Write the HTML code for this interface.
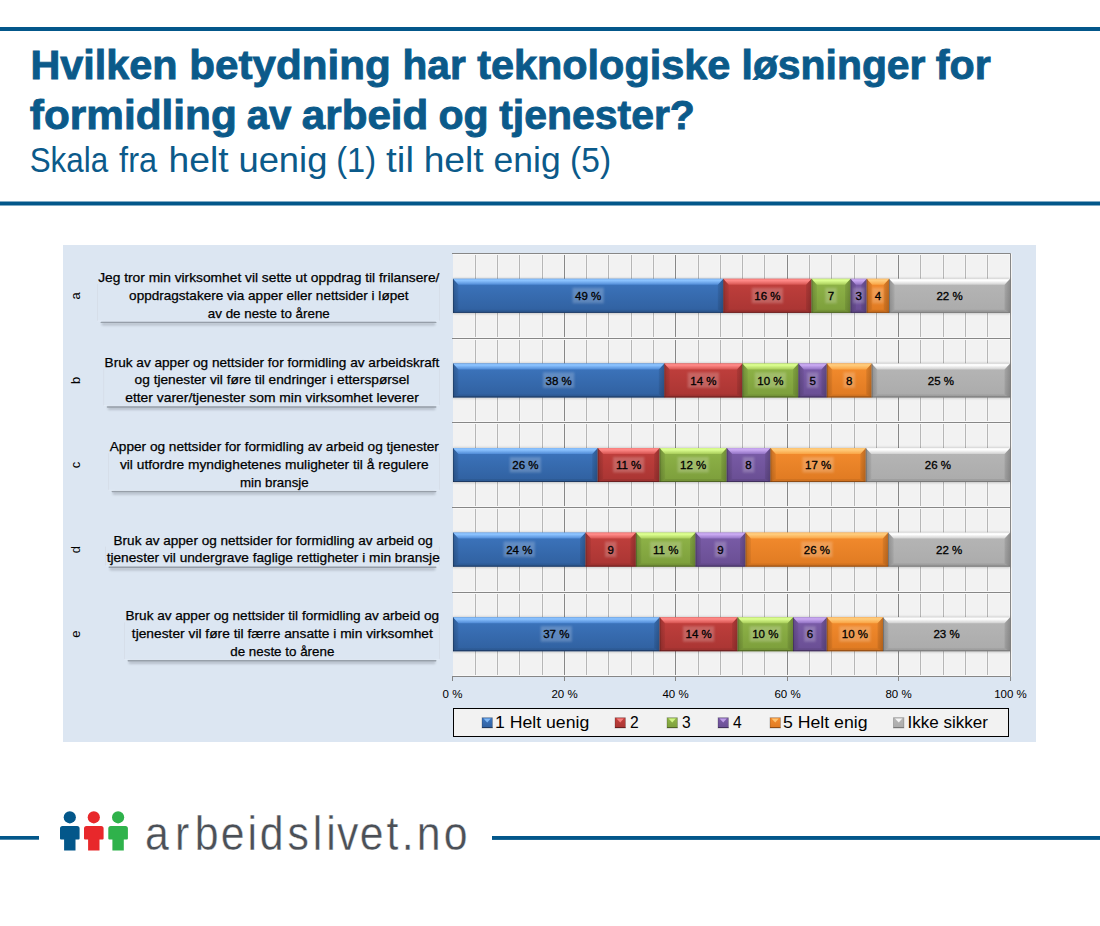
<!DOCTYPE html>
<html><head><meta charset="utf-8"><title>Hvilken betydning har teknologiske løsninger</title>
<style>
html,body{margin:0;padding:0;background:#fff;width:1100px;height:926px;overflow:hidden}
svg{display:block}
</style></head><body>
<svg width="1100" height="926" viewBox="0 0 1100 926">
<rect x="0" y="27" width="1100" height="4" fill="#03578a"/>
<rect x="0" y="201.5" width="1100" height="4" fill="#03578a"/>
<text x="30.43" y="78.6" textLength="147.18" lengthAdjust="spacingAndGlyphs" font-family="Liberation Sans, sans-serif" font-size="41" font-weight="bold" fill="#0b5a8a" stroke="#0b5a8a" stroke-width="0.9">Hvilken</text>
<text x="189.29" y="78.6" textLength="201.46" lengthAdjust="spacingAndGlyphs" font-family="Liberation Sans, sans-serif" font-size="41" font-weight="bold" fill="#0b5a8a" stroke="#0b5a8a" stroke-width="0.9">betydning</text>
<text x="402.47" y="78.6" textLength="63.24" lengthAdjust="spacingAndGlyphs" font-family="Liberation Sans, sans-serif" font-size="41" font-weight="bold" fill="#0b5a8a" stroke="#0b5a8a" stroke-width="0.9">har</text>
<text x="477.15" y="78.6" textLength="253.21" lengthAdjust="spacingAndGlyphs" font-family="Liberation Sans, sans-serif" font-size="41" font-weight="bold" fill="#0b5a8a" stroke="#0b5a8a" stroke-width="0.9">teknologiske</text>
<text x="741.56" y="78.6" textLength="183.95" lengthAdjust="spacingAndGlyphs" font-family="Liberation Sans, sans-serif" font-size="41" font-weight="bold" fill="#0b5a8a" stroke="#0b5a8a" stroke-width="0.9">løsninger</text>
<text x="935.85" y="78.6" textLength="54.96" lengthAdjust="spacingAndGlyphs" font-family="Liberation Sans, sans-serif" font-size="41" font-weight="bold" fill="#0b5a8a" stroke="#0b5a8a" stroke-width="0.9">for</text>
<text x="29.85" y="128.8" textLength="206.91" lengthAdjust="spacingAndGlyphs" font-family="Liberation Sans, sans-serif" font-size="41" font-weight="bold" fill="#0b5a8a" stroke="#0b5a8a" stroke-width="0.9">formidling</text>
<text x="246.77" y="128.8" textLength="44.58" lengthAdjust="spacingAndGlyphs" font-family="Liberation Sans, sans-serif" font-size="41" font-weight="bold" fill="#0b5a8a" stroke="#0b5a8a" stroke-width="0.9">av</text>
<text x="301.82" y="128.8" textLength="126.53" lengthAdjust="spacingAndGlyphs" font-family="Liberation Sans, sans-serif" font-size="41" font-weight="bold" fill="#0b5a8a" stroke="#0b5a8a" stroke-width="0.9">arbeid</text>
<text x="438.55" y="128.8" textLength="50.15" lengthAdjust="spacingAndGlyphs" font-family="Liberation Sans, sans-serif" font-size="41" font-weight="bold" fill="#0b5a8a" stroke="#0b5a8a" stroke-width="0.9">og</text>
<text x="499.15" y="128.8" textLength="195.74" lengthAdjust="spacingAndGlyphs" font-family="Liberation Sans, sans-serif" font-size="41" font-weight="bold" fill="#0b5a8a" stroke="#0b5a8a" stroke-width="0.9">tjenester?</text>
<text x="29.7" y="171.7" textLength="78.42" lengthAdjust="spacingAndGlyphs" font-family="Liberation Sans, sans-serif" font-size="35" fill="#0b5a8a">Skala</text>
<text x="119.1" y="171.7" textLength="38.0" lengthAdjust="spacingAndGlyphs" font-family="Liberation Sans, sans-serif" font-size="35" fill="#0b5a8a">fra</text>
<text x="168.57" y="171.7" textLength="60.03" lengthAdjust="spacingAndGlyphs" font-family="Liberation Sans, sans-serif" font-size="35" fill="#0b5a8a">helt</text>
<text x="238.42" y="171.7" textLength="89.0" lengthAdjust="spacingAndGlyphs" font-family="Liberation Sans, sans-serif" font-size="35" fill="#0b5a8a">uenig</text>
<text x="336.24" y="171.7" textLength="39.8" lengthAdjust="spacingAndGlyphs" font-family="Liberation Sans, sans-serif" font-size="35" fill="#0b5a8a">(1)</text>
<text x="386.1" y="171.7" textLength="27.86" lengthAdjust="spacingAndGlyphs" font-family="Liberation Sans, sans-serif" font-size="35" fill="#0b5a8a">til</text>
<text x="423.67" y="171.7" textLength="60.03" lengthAdjust="spacingAndGlyphs" font-family="Liberation Sans, sans-serif" font-size="35" fill="#0b5a8a">helt</text>
<text x="493.59" y="171.7" textLength="67.1" lengthAdjust="spacingAndGlyphs" font-family="Liberation Sans, sans-serif" font-size="35" fill="#0b5a8a">enig</text>
<text x="570.08" y="171.7" textLength="41.0" lengthAdjust="spacingAndGlyphs" font-family="Liberation Sans, sans-serif" font-size="35" fill="#0b5a8a">(5)</text>
<defs>
<linearGradient id="tb0" x1="0" y1="0" x2="0" y2="1"><stop offset="0" stop-color="#8cc3ff" stop-opacity="0.85"/><stop offset="0.3" stop-color="#8cc3ff"/><stop offset="1" stop-color="#4f8ad6"/></linearGradient>
<linearGradient id="bd0" x1="0" y1="0" x2="0" y2="1"><stop offset="0" stop-color="#3d76bf"/><stop offset="1" stop-color="#30609f"/></linearGradient>
<linearGradient id="tb1" x1="0" y1="0" x2="0" y2="1"><stop offset="0" stop-color="#ff8a88" stop-opacity="0.85"/><stop offset="0.3" stop-color="#ff8a88"/><stop offset="1" stop-color="#d65350"/></linearGradient>
<linearGradient id="bd1" x1="0" y1="0" x2="0" y2="1"><stop offset="0" stop-color="#c2403d"/><stop offset="1" stop-color="#a93533"/></linearGradient>
<linearGradient id="tb2" x1="0" y1="0" x2="0" y2="1"><stop offset="0" stop-color="#dcff90" stop-opacity="0.85"/><stop offset="0.3" stop-color="#dcff90"/><stop offset="1" stop-color="#a8cc5a"/></linearGradient>
<linearGradient id="bd2" x1="0" y1="0" x2="0" y2="1"><stop offset="0" stop-color="#90b549"/><stop offset="1" stop-color="#7c9e3b"/></linearGradient>
<linearGradient id="tb3" x1="0" y1="0" x2="0" y2="1"><stop offset="0" stop-color="#caaaf2" stop-opacity="0.85"/><stop offset="0.3" stop-color="#caaaf2"/><stop offset="1" stop-color="#9272c4"/></linearGradient>
<linearGradient id="bd3" x1="0" y1="0" x2="0" y2="1"><stop offset="0" stop-color="#7b5da9"/><stop offset="1" stop-color="#694e93"/></linearGradient>
<linearGradient id="tb4" x1="0" y1="0" x2="0" y2="1"><stop offset="0" stop-color="#ffcc7c" stop-opacity="0.85"/><stop offset="0.3" stop-color="#ffcc7c"/><stop offset="1" stop-color="#f9a445"/></linearGradient>
<linearGradient id="bd4" x1="0" y1="0" x2="0" y2="1"><stop offset="0" stop-color="#f48c2e"/><stop offset="1" stop-color="#df7a22"/></linearGradient>
<linearGradient id="tb5" x1="0" y1="0" x2="0" y2="1"><stop offset="0" stop-color="#ffffff" stop-opacity="0.85"/><stop offset="0.3" stop-color="#ffffff"/><stop offset="1" stop-color="#cfcfcf"/></linearGradient>
<linearGradient id="bd5" x1="0" y1="0" x2="0" y2="1"><stop offset="0" stop-color="#b6b6b6"/><stop offset="1" stop-color="#ababab"/></linearGradient>
<linearGradient id="lb" x1="0" y1="0" x2="1" y2="0"><stop offset="0" stop-color="#000" stop-opacity="0.2"/><stop offset="1" stop-color="#000" stop-opacity="0.05"/></linearGradient>
<linearGradient id="rb" x1="0" y1="0" x2="1" y2="0"><stop offset="0" stop-color="#000" stop-opacity="0.08"/><stop offset="1" stop-color="#000" stop-opacity="0.22"/></linearGradient>
<filter id="sh2" x="-5%" y="-300%" width="110%" height="700%"><feGaussianBlur stdDeviation="0.5"/></filter>
<filter id="blur1" x="-20%" y="-50%" width="140%" height="200%"><feGaussianBlur stdDeviation="1.2"/></filter>
<filter id="sh" x="-5%" y="-200%" width="110%" height="500%"><feGaussianBlur stdDeviation="0.9"/></filter>
</defs>
<rect x="63" y="245" width="973" height="497" fill="#dce6f2"/>
<rect x="453.0" y="253.5" width="557.0" height="423.0" fill="#f2f2f2"/>
<line x1="474.5" y1="253.5" x2="474.5" y2="676.5" stroke="#f5f5f5" stroke-width="1"/>
<line x1="476.5" y1="253.5" x2="476.5" y2="676.5" stroke="#f5f5f5" stroke-width="1"/>
<line x1="475.5" y1="253.5" x2="475.5" y2="676.5" stroke="#b6b6b6" stroke-width="1"/>
<line x1="496.5" y1="253.5" x2="496.5" y2="676.5" stroke="#f5f5f5" stroke-width="1"/>
<line x1="498.5" y1="253.5" x2="498.5" y2="676.5" stroke="#f5f5f5" stroke-width="1"/>
<line x1="497.5" y1="253.5" x2="497.5" y2="676.5" stroke="#b6b6b6" stroke-width="1"/>
<line x1="518.5" y1="253.5" x2="518.5" y2="676.5" stroke="#f5f5f5" stroke-width="1"/>
<line x1="520.5" y1="253.5" x2="520.5" y2="676.5" stroke="#f5f5f5" stroke-width="1"/>
<line x1="519.5" y1="253.5" x2="519.5" y2="676.5" stroke="#b6b6b6" stroke-width="1"/>
<line x1="541.5" y1="253.5" x2="541.5" y2="676.5" stroke="#f5f5f5" stroke-width="1"/>
<line x1="543.5" y1="253.5" x2="543.5" y2="676.5" stroke="#f5f5f5" stroke-width="1"/>
<line x1="542.5" y1="253.5" x2="542.5" y2="676.5" stroke="#b6b6b6" stroke-width="1"/>
<line x1="563.5" y1="253.5" x2="563.5" y2="676.5" stroke="#f5f5f5" stroke-width="1"/>
<line x1="565.5" y1="253.5" x2="565.5" y2="676.5" stroke="#f5f5f5" stroke-width="1"/>
<line x1="564.5" y1="253.5" x2="564.5" y2="676.5" stroke="#878787" stroke-width="1"/>
<line x1="585.5" y1="253.5" x2="585.5" y2="676.5" stroke="#f5f5f5" stroke-width="1"/>
<line x1="587.5" y1="253.5" x2="587.5" y2="676.5" stroke="#f5f5f5" stroke-width="1"/>
<line x1="586.5" y1="253.5" x2="586.5" y2="676.5" stroke="#b6b6b6" stroke-width="1"/>
<line x1="607.5" y1="253.5" x2="607.5" y2="676.5" stroke="#f5f5f5" stroke-width="1"/>
<line x1="609.5" y1="253.5" x2="609.5" y2="676.5" stroke="#f5f5f5" stroke-width="1"/>
<line x1="608.5" y1="253.5" x2="608.5" y2="676.5" stroke="#b6b6b6" stroke-width="1"/>
<line x1="630.5" y1="253.5" x2="630.5" y2="676.5" stroke="#f5f5f5" stroke-width="1"/>
<line x1="632.5" y1="253.5" x2="632.5" y2="676.5" stroke="#f5f5f5" stroke-width="1"/>
<line x1="631.5" y1="253.5" x2="631.5" y2="676.5" stroke="#b6b6b6" stroke-width="1"/>
<line x1="652.5" y1="253.5" x2="652.5" y2="676.5" stroke="#f5f5f5" stroke-width="1"/>
<line x1="654.5" y1="253.5" x2="654.5" y2="676.5" stroke="#f5f5f5" stroke-width="1"/>
<line x1="653.5" y1="253.5" x2="653.5" y2="676.5" stroke="#b6b6b6" stroke-width="1"/>
<line x1="674.5" y1="253.5" x2="674.5" y2="676.5" stroke="#f5f5f5" stroke-width="1"/>
<line x1="676.5" y1="253.5" x2="676.5" y2="676.5" stroke="#f5f5f5" stroke-width="1"/>
<line x1="675.5" y1="253.5" x2="675.5" y2="676.5" stroke="#878787" stroke-width="1"/>
<line x1="697.5" y1="253.5" x2="697.5" y2="676.5" stroke="#f5f5f5" stroke-width="1"/>
<line x1="699.5" y1="253.5" x2="699.5" y2="676.5" stroke="#f5f5f5" stroke-width="1"/>
<line x1="698.5" y1="253.5" x2="698.5" y2="676.5" stroke="#b6b6b6" stroke-width="1"/>
<line x1="719.5" y1="253.5" x2="719.5" y2="676.5" stroke="#f5f5f5" stroke-width="1"/>
<line x1="721.5" y1="253.5" x2="721.5" y2="676.5" stroke="#f5f5f5" stroke-width="1"/>
<line x1="720.5" y1="253.5" x2="720.5" y2="676.5" stroke="#b6b6b6" stroke-width="1"/>
<line x1="741.5" y1="253.5" x2="741.5" y2="676.5" stroke="#f5f5f5" stroke-width="1"/>
<line x1="743.5" y1="253.5" x2="743.5" y2="676.5" stroke="#f5f5f5" stroke-width="1"/>
<line x1="742.5" y1="253.5" x2="742.5" y2="676.5" stroke="#b6b6b6" stroke-width="1"/>
<line x1="763.5" y1="253.5" x2="763.5" y2="676.5" stroke="#f5f5f5" stroke-width="1"/>
<line x1="765.5" y1="253.5" x2="765.5" y2="676.5" stroke="#f5f5f5" stroke-width="1"/>
<line x1="764.5" y1="253.5" x2="764.5" y2="676.5" stroke="#b6b6b6" stroke-width="1"/>
<line x1="786.5" y1="253.5" x2="786.5" y2="676.5" stroke="#f5f5f5" stroke-width="1"/>
<line x1="788.5" y1="253.5" x2="788.5" y2="676.5" stroke="#f5f5f5" stroke-width="1"/>
<line x1="787.5" y1="253.5" x2="787.5" y2="676.5" stroke="#878787" stroke-width="1"/>
<line x1="808.5" y1="253.5" x2="808.5" y2="676.5" stroke="#f5f5f5" stroke-width="1"/>
<line x1="810.5" y1="253.5" x2="810.5" y2="676.5" stroke="#f5f5f5" stroke-width="1"/>
<line x1="809.5" y1="253.5" x2="809.5" y2="676.5" stroke="#b6b6b6" stroke-width="1"/>
<line x1="830.5" y1="253.5" x2="830.5" y2="676.5" stroke="#f5f5f5" stroke-width="1"/>
<line x1="832.5" y1="253.5" x2="832.5" y2="676.5" stroke="#f5f5f5" stroke-width="1"/>
<line x1="831.5" y1="253.5" x2="831.5" y2="676.5" stroke="#b6b6b6" stroke-width="1"/>
<line x1="853.5" y1="253.5" x2="853.5" y2="676.5" stroke="#f5f5f5" stroke-width="1"/>
<line x1="855.5" y1="253.5" x2="855.5" y2="676.5" stroke="#f5f5f5" stroke-width="1"/>
<line x1="854.5" y1="253.5" x2="854.5" y2="676.5" stroke="#b6b6b6" stroke-width="1"/>
<line x1="875.5" y1="253.5" x2="875.5" y2="676.5" stroke="#f5f5f5" stroke-width="1"/>
<line x1="877.5" y1="253.5" x2="877.5" y2="676.5" stroke="#f5f5f5" stroke-width="1"/>
<line x1="876.5" y1="253.5" x2="876.5" y2="676.5" stroke="#b6b6b6" stroke-width="1"/>
<line x1="897.5" y1="253.5" x2="897.5" y2="676.5" stroke="#f5f5f5" stroke-width="1"/>
<line x1="899.5" y1="253.5" x2="899.5" y2="676.5" stroke="#f5f5f5" stroke-width="1"/>
<line x1="898.5" y1="253.5" x2="898.5" y2="676.5" stroke="#878787" stroke-width="1"/>
<line x1="919.5" y1="253.5" x2="919.5" y2="676.5" stroke="#f5f5f5" stroke-width="1"/>
<line x1="921.5" y1="253.5" x2="921.5" y2="676.5" stroke="#f5f5f5" stroke-width="1"/>
<line x1="920.5" y1="253.5" x2="920.5" y2="676.5" stroke="#b6b6b6" stroke-width="1"/>
<line x1="942.5" y1="253.5" x2="942.5" y2="676.5" stroke="#f5f5f5" stroke-width="1"/>
<line x1="944.5" y1="253.5" x2="944.5" y2="676.5" stroke="#f5f5f5" stroke-width="1"/>
<line x1="943.5" y1="253.5" x2="943.5" y2="676.5" stroke="#b6b6b6" stroke-width="1"/>
<line x1="964.5" y1="253.5" x2="964.5" y2="676.5" stroke="#f5f5f5" stroke-width="1"/>
<line x1="966.5" y1="253.5" x2="966.5" y2="676.5" stroke="#f5f5f5" stroke-width="1"/>
<line x1="965.5" y1="253.5" x2="965.5" y2="676.5" stroke="#b6b6b6" stroke-width="1"/>
<line x1="986.5" y1="253.5" x2="986.5" y2="676.5" stroke="#f5f5f5" stroke-width="1"/>
<line x1="988.5" y1="253.5" x2="988.5" y2="676.5" stroke="#f5f5f5" stroke-width="1"/>
<line x1="987.5" y1="253.5" x2="987.5" y2="676.5" stroke="#b6b6b6" stroke-width="1"/>
<line x1="1009.5" y1="253.5" x2="1009.5" y2="676.5" stroke="#f5f5f5" stroke-width="1"/>
<line x1="1011.5" y1="253.5" x2="1011.5" y2="676.5" stroke="#f5f5f5" stroke-width="1"/>
<line x1="1010.5" y1="253.5" x2="1010.5" y2="676.5" stroke="#878787" stroke-width="1"/>
<line x1="453.0" y1="254.5" x2="1010.0" y2="254.5" stroke="#f8f8f8" stroke-width="1"/>
<line x1="452.0" y1="253.5" x2="1010.5" y2="253.5" stroke="#878787" stroke-width="1"/>
<line x1="453.0" y1="337.5" x2="1010.0" y2="337.5" stroke="#f8f8f8" stroke-width="1"/>
<line x1="453.0" y1="339.5" x2="1010.0" y2="339.5" stroke="#f8f8f8" stroke-width="1"/>
<line x1="452.0" y1="338.5" x2="1010.5" y2="338.5" stroke="#878787" stroke-width="1"/>
<line x1="453.0" y1="421.5" x2="1010.0" y2="421.5" stroke="#f8f8f8" stroke-width="1"/>
<line x1="453.0" y1="423.5" x2="1010.0" y2="423.5" stroke="#f8f8f8" stroke-width="1"/>
<line x1="452.0" y1="422.5" x2="1010.5" y2="422.5" stroke="#878787" stroke-width="1"/>
<line x1="453.0" y1="506.5" x2="1010.0" y2="506.5" stroke="#f8f8f8" stroke-width="1"/>
<line x1="453.0" y1="508.5" x2="1010.0" y2="508.5" stroke="#f8f8f8" stroke-width="1"/>
<line x1="452.0" y1="507.5" x2="1010.5" y2="507.5" stroke="#878787" stroke-width="1"/>
<line x1="453.0" y1="591.5" x2="1010.0" y2="591.5" stroke="#f8f8f8" stroke-width="1"/>
<line x1="453.0" y1="593.5" x2="1010.0" y2="593.5" stroke="#f8f8f8" stroke-width="1"/>
<line x1="452.0" y1="592.5" x2="1010.5" y2="592.5" stroke="#878787" stroke-width="1"/>
<line x1="453.0" y1="675.5" x2="1010.0" y2="675.5" stroke="#f8f8f8" stroke-width="1"/>
<line x1="452.0" y1="676.5" x2="1010.5" y2="676.5" stroke="#868686" stroke-width="1"/>
<line x1="452.50" y1="676.5" x2="452.50" y2="681.0" stroke="#868686" stroke-width="1"/>
<text x="452.50" y="698" text-anchor="middle" font-family="Liberation Sans, sans-serif" font-size="11.5" fill="#000">0 %</text>
<line x1="564.50" y1="676.5" x2="564.50" y2="681.0" stroke="#868686" stroke-width="1"/>
<text x="564.50" y="698" text-anchor="middle" font-family="Liberation Sans, sans-serif" font-size="11.5" fill="#000">20 %</text>
<line x1="675.50" y1="676.5" x2="675.50" y2="681.0" stroke="#868686" stroke-width="1"/>
<text x="675.50" y="698" text-anchor="middle" font-family="Liberation Sans, sans-serif" font-size="11.5" fill="#000">40 %</text>
<line x1="787.50" y1="676.5" x2="787.50" y2="681.0" stroke="#868686" stroke-width="1"/>
<text x="787.50" y="698" text-anchor="middle" font-family="Liberation Sans, sans-serif" font-size="11.5" fill="#000">60 %</text>
<line x1="898.50" y1="676.5" x2="898.50" y2="681.0" stroke="#868686" stroke-width="1"/>
<text x="898.50" y="698" text-anchor="middle" font-family="Liberation Sans, sans-serif" font-size="11.5" fill="#000">80 %</text>
<line x1="1010.50" y1="676.5" x2="1010.50" y2="681.0" stroke="#868686" stroke-width="1"/>
<text x="1010.50" y="698" text-anchor="middle" font-family="Liberation Sans, sans-serif" font-size="11.5" fill="#000">100 %</text>
<rect x="453.0" y="278.30" width="557.0" height="35.50" fill="#000" opacity="0.18" filter="url(#sh)"/>
<rect x="453.00" y="278.80" width="270.30" height="34.0" fill="url(#bd0)"/>
<polygon points="453.00,278.80 458.50,284.80 458.50,309.80 453.00,312.80" fill="url(#lb)"/>
<polygon points="723.30,278.80 717.80,284.80 717.80,309.80 723.30,312.80" fill="url(#rb)"/>
<polygon points="453.00,312.80 458.50,309.80 717.80,309.80 723.30,312.80" fill="#000" opacity="0.07"/>
<polygon points="453.00,278.80 723.30,278.80 717.80,284.80 458.50,284.80" fill="url(#tb0)"/>
<rect x="453.00" y="311.80" width="270.30" height="1" fill="#1e3a63"/>
<rect x="453.00" y="278.80" width="0.8" height="34.0" fill="#000" opacity="0.25"/>
<rect x="572.55" y="287.80" width="31.20" height="15.5" fill="#fff" opacity="0.2" filter="url(#blur1)"/>
<text x="588.15" y="299.90" text-anchor="middle" font-family="Liberation Sans, sans-serif" font-size="11.5" fill="#000" stroke="#000" stroke-width="0.3">49 %</text>
<rect x="723.30" y="278.80" width="88.20" height="34.0" fill="url(#bd1)"/>
<polygon points="723.30,278.80 728.80,284.80 728.80,309.80 723.30,312.80" fill="url(#lb)"/>
<polygon points="811.50,278.80 806.00,284.80 806.00,309.80 811.50,312.80" fill="url(#rb)"/>
<polygon points="723.30,312.80 728.80,309.80 806.00,309.80 811.50,312.80" fill="#000" opacity="0.07"/>
<polygon points="723.30,278.80 811.50,278.80 806.00,284.80 728.80,284.80" fill="url(#tb1)"/>
<rect x="723.30" y="311.80" width="88.20" height="1" fill="#6a2020"/>
<rect x="723.30" y="278.80" width="0.8" height="34.0" fill="#000" opacity="0.25"/>
<rect x="751.80" y="287.80" width="31.20" height="15.5" fill="#fff" opacity="0.2" filter="url(#blur1)"/>
<text x="767.40" y="299.90" text-anchor="middle" font-family="Liberation Sans, sans-serif" font-size="11.5" fill="#000" stroke="#000" stroke-width="0.3">16 %</text>
<rect x="811.50" y="278.80" width="39.00" height="34.0" fill="url(#bd2)"/>
<polygon points="811.50,278.80 817.00,284.80 817.00,309.80 811.50,312.80" fill="url(#lb)"/>
<polygon points="850.50,278.80 845.00,284.80 845.00,309.80 850.50,312.80" fill="url(#rb)"/>
<polygon points="811.50,312.80 817.00,309.80 845.00,309.80 850.50,312.80" fill="#000" opacity="0.07"/>
<polygon points="811.50,278.80 850.50,278.80 845.00,284.80 817.00,284.80" fill="url(#tb2)"/>
<rect x="811.50" y="311.80" width="39.00" height="1" fill="#4f6424"/>
<rect x="811.50" y="278.80" width="0.8" height="34.0" fill="#000" opacity="0.25"/>
<rect x="825.30" y="287.80" width="11.40" height="15.5" fill="#fff" opacity="0.2" filter="url(#blur1)"/>
<text x="831.00" y="299.90" text-anchor="middle" font-family="Liberation Sans, sans-serif" font-size="11.5" fill="#000" stroke="#000" stroke-width="0.3">7</text>
<rect x="850.50" y="278.80" width="16.20" height="34.0" fill="url(#bd3)"/>
<polygon points="850.50,278.80 856.00,284.80 856.00,309.80 850.50,312.80" fill="url(#lb)"/>
<polygon points="866.70,278.80 861.20,284.80 861.20,309.80 866.70,312.80" fill="url(#rb)"/>
<polygon points="850.50,312.80 856.00,309.80 861.20,309.80 866.70,312.80" fill="#000" opacity="0.07"/>
<polygon points="850.50,278.80 866.70,278.80 861.20,284.80 856.00,284.80" fill="url(#tb3)"/>
<rect x="850.50" y="311.80" width="16.20" height="1" fill="#41305d"/>
<rect x="850.50" y="278.80" width="0.8" height="34.0" fill="#000" opacity="0.25"/>
<rect x="852.90" y="287.80" width="11.40" height="15.5" fill="#fff" opacity="0.2" filter="url(#blur1)"/>
<text x="858.60" y="299.90" text-anchor="middle" font-family="Liberation Sans, sans-serif" font-size="11.5" fill="#000" stroke="#000" stroke-width="0.3">3</text>
<rect x="866.70" y="278.80" width="22.40" height="34.0" fill="url(#bd4)"/>
<polygon points="866.70,278.80 872.20,284.80 872.20,309.80 866.70,312.80" fill="url(#lb)"/>
<polygon points="889.10,278.80 883.60,284.80 883.60,309.80 889.10,312.80" fill="url(#rb)"/>
<polygon points="866.70,312.80 872.20,309.80 883.60,309.80 889.10,312.80" fill="#000" opacity="0.07"/>
<polygon points="866.70,278.80 889.10,278.80 883.60,284.80 872.20,284.80" fill="url(#tb4)"/>
<rect x="866.70" y="311.80" width="22.40" height="1" fill="#8f4c14"/>
<rect x="866.70" y="278.80" width="0.8" height="34.0" fill="#000" opacity="0.25"/>
<rect x="872.20" y="287.80" width="11.40" height="15.5" fill="#fff" opacity="0.2" filter="url(#blur1)"/>
<text x="877.90" y="299.90" text-anchor="middle" font-family="Liberation Sans, sans-serif" font-size="11.5" fill="#000" stroke="#000" stroke-width="0.3">4</text>
<rect x="889.10" y="278.80" width="120.90" height="34.0" fill="url(#bd5)"/>
<polygon points="889.10,278.80 894.60,284.80 894.60,309.80 889.10,312.80" fill="url(#lb)"/>
<polygon points="1010.00,278.80 1004.50,284.80 1004.50,309.80 1010.00,312.80" fill="url(#rb)"/>
<polygon points="889.10,312.80 894.60,309.80 1004.50,309.80 1010.00,312.80" fill="#000" opacity="0.07"/>
<polygon points="889.10,278.80 1010.00,278.80 1004.50,284.80 894.60,284.80" fill="url(#tb5)"/>
<rect x="889.10" y="311.80" width="120.90" height="1" fill="#787878"/>
<rect x="889.10" y="278.80" width="0.8" height="34.0" fill="#000" opacity="0.25"/>
<text x="949.55" y="299.90" text-anchor="middle" font-family="Liberation Sans, sans-serif" font-size="11.5" fill="#000" stroke="#000" stroke-width="0.3">22 %</text>
<rect x="453.0" y="362.90" width="557.0" height="35.50" fill="#000" opacity="0.18" filter="url(#sh)"/>
<rect x="453.00" y="363.40" width="211.30" height="34.0" fill="url(#bd0)"/>
<polygon points="453.00,363.40 458.50,369.40 458.50,394.40 453.00,397.40" fill="url(#lb)"/>
<polygon points="664.30,363.40 658.80,369.40 658.80,394.40 664.30,397.40" fill="url(#rb)"/>
<polygon points="453.00,397.40 458.50,394.40 658.80,394.40 664.30,397.40" fill="#000" opacity="0.07"/>
<polygon points="453.00,363.40 664.30,363.40 658.80,369.40 458.50,369.40" fill="url(#tb0)"/>
<rect x="453.00" y="396.40" width="211.30" height="1" fill="#1e3a63"/>
<rect x="453.00" y="363.40" width="0.8" height="34.0" fill="#000" opacity="0.25"/>
<rect x="543.05" y="372.40" width="31.20" height="15.5" fill="#fff" opacity="0.2" filter="url(#blur1)"/>
<text x="558.65" y="384.50" text-anchor="middle" font-family="Liberation Sans, sans-serif" font-size="11.5" fill="#000" stroke="#000" stroke-width="0.3">38 %</text>
<rect x="664.30" y="363.40" width="78.10" height="34.0" fill="url(#bd1)"/>
<polygon points="664.30,363.40 669.80,369.40 669.80,394.40 664.30,397.40" fill="url(#lb)"/>
<polygon points="742.40,363.40 736.90,369.40 736.90,394.40 742.40,397.40" fill="url(#rb)"/>
<polygon points="664.30,397.40 669.80,394.40 736.90,394.40 742.40,397.40" fill="#000" opacity="0.07"/>
<polygon points="664.30,363.40 742.40,363.40 736.90,369.40 669.80,369.40" fill="url(#tb1)"/>
<rect x="664.30" y="396.40" width="78.10" height="1" fill="#6a2020"/>
<rect x="664.30" y="363.40" width="0.8" height="34.0" fill="#000" opacity="0.25"/>
<rect x="687.75" y="372.40" width="31.20" height="15.5" fill="#fff" opacity="0.2" filter="url(#blur1)"/>
<text x="703.35" y="384.50" text-anchor="middle" font-family="Liberation Sans, sans-serif" font-size="11.5" fill="#000" stroke="#000" stroke-width="0.3">14 %</text>
<rect x="742.40" y="363.40" width="56.00" height="34.0" fill="url(#bd2)"/>
<polygon points="742.40,363.40 747.90,369.40 747.90,394.40 742.40,397.40" fill="url(#lb)"/>
<polygon points="798.40,363.40 792.90,369.40 792.90,394.40 798.40,397.40" fill="url(#rb)"/>
<polygon points="742.40,397.40 747.90,394.40 792.90,394.40 798.40,397.40" fill="#000" opacity="0.07"/>
<polygon points="742.40,363.40 798.40,363.40 792.90,369.40 747.90,369.40" fill="url(#tb2)"/>
<rect x="742.40" y="396.40" width="56.00" height="1" fill="#4f6424"/>
<rect x="742.40" y="363.40" width="0.8" height="34.0" fill="#000" opacity="0.25"/>
<rect x="754.80" y="372.40" width="31.20" height="15.5" fill="#fff" opacity="0.2" filter="url(#blur1)"/>
<text x="770.40" y="384.50" text-anchor="middle" font-family="Liberation Sans, sans-serif" font-size="11.5" fill="#000" stroke="#000" stroke-width="0.3">10 %</text>
<rect x="798.40" y="363.40" width="28.40" height="34.0" fill="url(#bd3)"/>
<polygon points="798.40,363.40 803.90,369.40 803.90,394.40 798.40,397.40" fill="url(#lb)"/>
<polygon points="826.80,363.40 821.30,369.40 821.30,394.40 826.80,397.40" fill="url(#rb)"/>
<polygon points="798.40,397.40 803.90,394.40 821.30,394.40 826.80,397.40" fill="#000" opacity="0.07"/>
<polygon points="798.40,363.40 826.80,363.40 821.30,369.40 803.90,369.40" fill="url(#tb3)"/>
<rect x="798.40" y="396.40" width="28.40" height="1" fill="#41305d"/>
<rect x="798.40" y="363.40" width="0.8" height="34.0" fill="#000" opacity="0.25"/>
<rect x="806.90" y="372.40" width="11.40" height="15.5" fill="#fff" opacity="0.2" filter="url(#blur1)"/>
<text x="812.60" y="384.50" text-anchor="middle" font-family="Liberation Sans, sans-serif" font-size="11.5" fill="#000" stroke="#000" stroke-width="0.3">5</text>
<rect x="826.80" y="363.40" width="44.90" height="34.0" fill="url(#bd4)"/>
<polygon points="826.80,363.40 832.30,369.40 832.30,394.40 826.80,397.40" fill="url(#lb)"/>
<polygon points="871.70,363.40 866.20,369.40 866.20,394.40 871.70,397.40" fill="url(#rb)"/>
<polygon points="826.80,397.40 832.30,394.40 866.20,394.40 871.70,397.40" fill="#000" opacity="0.07"/>
<polygon points="826.80,363.40 871.70,363.40 866.20,369.40 832.30,369.40" fill="url(#tb4)"/>
<rect x="826.80" y="396.40" width="44.90" height="1" fill="#8f4c14"/>
<rect x="826.80" y="363.40" width="0.8" height="34.0" fill="#000" opacity="0.25"/>
<rect x="843.55" y="372.40" width="11.40" height="15.5" fill="#fff" opacity="0.2" filter="url(#blur1)"/>
<text x="849.25" y="384.50" text-anchor="middle" font-family="Liberation Sans, sans-serif" font-size="11.5" fill="#000" stroke="#000" stroke-width="0.3">8</text>
<rect x="871.70" y="363.40" width="138.30" height="34.0" fill="url(#bd5)"/>
<polygon points="871.70,363.40 877.20,369.40 877.20,394.40 871.70,397.40" fill="url(#lb)"/>
<polygon points="1010.00,363.40 1004.50,369.40 1004.50,394.40 1010.00,397.40" fill="url(#rb)"/>
<polygon points="871.70,397.40 877.20,394.40 1004.50,394.40 1010.00,397.40" fill="#000" opacity="0.07"/>
<polygon points="871.70,363.40 1010.00,363.40 1004.50,369.40 877.20,369.40" fill="url(#tb5)"/>
<rect x="871.70" y="396.40" width="138.30" height="1" fill="#787878"/>
<rect x="871.70" y="363.40" width="0.8" height="34.0" fill="#000" opacity="0.25"/>
<text x="940.85" y="384.50" text-anchor="middle" font-family="Liberation Sans, sans-serif" font-size="11.5" fill="#000" stroke="#000" stroke-width="0.3">25 %</text>
<rect x="453.0" y="447.50" width="557.0" height="35.50" fill="#000" opacity="0.18" filter="url(#sh)"/>
<rect x="453.00" y="448.00" width="144.70" height="34.0" fill="url(#bd0)"/>
<polygon points="453.00,448.00 458.50,454.00 458.50,479.00 453.00,482.00" fill="url(#lb)"/>
<polygon points="597.70,448.00 592.20,454.00 592.20,479.00 597.70,482.00" fill="url(#rb)"/>
<polygon points="453.00,482.00 458.50,479.00 592.20,479.00 597.70,482.00" fill="#000" opacity="0.07"/>
<polygon points="453.00,448.00 597.70,448.00 592.20,454.00 458.50,454.00" fill="url(#tb0)"/>
<rect x="453.00" y="481.00" width="144.70" height="1" fill="#1e3a63"/>
<rect x="453.00" y="448.00" width="0.8" height="34.0" fill="#000" opacity="0.25"/>
<rect x="509.75" y="457.00" width="31.20" height="15.5" fill="#fff" opacity="0.2" filter="url(#blur1)"/>
<text x="525.35" y="469.10" text-anchor="middle" font-family="Liberation Sans, sans-serif" font-size="11.5" fill="#000" stroke="#000" stroke-width="0.3">26 %</text>
<rect x="597.70" y="448.00" width="61.90" height="34.0" fill="url(#bd1)"/>
<polygon points="597.70,448.00 603.20,454.00 603.20,479.00 597.70,482.00" fill="url(#lb)"/>
<polygon points="659.60,448.00 654.10,454.00 654.10,479.00 659.60,482.00" fill="url(#rb)"/>
<polygon points="597.70,482.00 603.20,479.00 654.10,479.00 659.60,482.00" fill="#000" opacity="0.07"/>
<polygon points="597.70,448.00 659.60,448.00 654.10,454.00 603.20,454.00" fill="url(#tb1)"/>
<rect x="597.70" y="481.00" width="61.90" height="1" fill="#6a2020"/>
<rect x="597.70" y="448.00" width="0.8" height="34.0" fill="#000" opacity="0.25"/>
<rect x="613.05" y="457.00" width="31.20" height="15.5" fill="#fff" opacity="0.2" filter="url(#blur1)"/>
<text x="628.65" y="469.10" text-anchor="middle" font-family="Liberation Sans, sans-serif" font-size="11.5" fill="#000" stroke="#000" stroke-width="0.3">11 %</text>
<rect x="659.60" y="448.00" width="67.10" height="34.0" fill="url(#bd2)"/>
<polygon points="659.60,448.00 665.10,454.00 665.10,479.00 659.60,482.00" fill="url(#lb)"/>
<polygon points="726.70,448.00 721.20,454.00 721.20,479.00 726.70,482.00" fill="url(#rb)"/>
<polygon points="659.60,482.00 665.10,479.00 721.20,479.00 726.70,482.00" fill="#000" opacity="0.07"/>
<polygon points="659.60,448.00 726.70,448.00 721.20,454.00 665.10,454.00" fill="url(#tb2)"/>
<rect x="659.60" y="481.00" width="67.10" height="1" fill="#4f6424"/>
<rect x="659.60" y="448.00" width="0.8" height="34.0" fill="#000" opacity="0.25"/>
<rect x="677.55" y="457.00" width="31.20" height="15.5" fill="#fff" opacity="0.2" filter="url(#blur1)"/>
<text x="693.15" y="469.10" text-anchor="middle" font-family="Liberation Sans, sans-serif" font-size="11.5" fill="#000" stroke="#000" stroke-width="0.3">12 %</text>
<rect x="726.70" y="448.00" width="43.70" height="34.0" fill="url(#bd3)"/>
<polygon points="726.70,448.00 732.20,454.00 732.20,479.00 726.70,482.00" fill="url(#lb)"/>
<polygon points="770.40,448.00 764.90,454.00 764.90,479.00 770.40,482.00" fill="url(#rb)"/>
<polygon points="726.70,482.00 732.20,479.00 764.90,479.00 770.40,482.00" fill="#000" opacity="0.07"/>
<polygon points="726.70,448.00 770.40,448.00 764.90,454.00 732.20,454.00" fill="url(#tb3)"/>
<rect x="726.70" y="481.00" width="43.70" height="1" fill="#41305d"/>
<rect x="726.70" y="448.00" width="0.8" height="34.0" fill="#000" opacity="0.25"/>
<rect x="742.85" y="457.00" width="11.40" height="15.5" fill="#fff" opacity="0.2" filter="url(#blur1)"/>
<text x="748.55" y="469.10" text-anchor="middle" font-family="Liberation Sans, sans-serif" font-size="11.5" fill="#000" stroke="#000" stroke-width="0.3">8</text>
<rect x="770.40" y="448.00" width="95.40" height="34.0" fill="url(#bd4)"/>
<polygon points="770.40,448.00 775.90,454.00 775.90,479.00 770.40,482.00" fill="url(#lb)"/>
<polygon points="865.80,448.00 860.30,454.00 860.30,479.00 865.80,482.00" fill="url(#rb)"/>
<polygon points="770.40,482.00 775.90,479.00 860.30,479.00 865.80,482.00" fill="#000" opacity="0.07"/>
<polygon points="770.40,448.00 865.80,448.00 860.30,454.00 775.90,454.00" fill="url(#tb4)"/>
<rect x="770.40" y="481.00" width="95.40" height="1" fill="#8f4c14"/>
<rect x="770.40" y="448.00" width="0.8" height="34.0" fill="#000" opacity="0.25"/>
<rect x="802.50" y="457.00" width="31.20" height="15.5" fill="#fff" opacity="0.2" filter="url(#blur1)"/>
<text x="818.10" y="469.10" text-anchor="middle" font-family="Liberation Sans, sans-serif" font-size="11.5" fill="#000" stroke="#000" stroke-width="0.3">17 %</text>
<rect x="865.80" y="448.00" width="144.20" height="34.0" fill="url(#bd5)"/>
<polygon points="865.80,448.00 871.30,454.00 871.30,479.00 865.80,482.00" fill="url(#lb)"/>
<polygon points="1010.00,448.00 1004.50,454.00 1004.50,479.00 1010.00,482.00" fill="url(#rb)"/>
<polygon points="865.80,482.00 871.30,479.00 1004.50,479.00 1010.00,482.00" fill="#000" opacity="0.07"/>
<polygon points="865.80,448.00 1010.00,448.00 1004.50,454.00 871.30,454.00" fill="url(#tb5)"/>
<rect x="865.80" y="481.00" width="144.20" height="1" fill="#787878"/>
<rect x="865.80" y="448.00" width="0.8" height="34.0" fill="#000" opacity="0.25"/>
<text x="937.90" y="469.10" text-anchor="middle" font-family="Liberation Sans, sans-serif" font-size="11.5" fill="#000" stroke="#000" stroke-width="0.3">26 %</text>
<rect x="453.0" y="532.10" width="557.0" height="35.50" fill="#000" opacity="0.18" filter="url(#sh)"/>
<rect x="453.00" y="532.60" width="132.50" height="34.0" fill="url(#bd0)"/>
<polygon points="453.00,532.60 458.50,538.60 458.50,563.60 453.00,566.60" fill="url(#lb)"/>
<polygon points="585.50,532.60 580.00,538.60 580.00,563.60 585.50,566.60" fill="url(#rb)"/>
<polygon points="453.00,566.60 458.50,563.60 580.00,563.60 585.50,566.60" fill="#000" opacity="0.07"/>
<polygon points="453.00,532.60 585.50,532.60 580.00,538.60 458.50,538.60" fill="url(#tb0)"/>
<rect x="453.00" y="565.60" width="132.50" height="1" fill="#1e3a63"/>
<rect x="453.00" y="532.60" width="0.8" height="34.0" fill="#000" opacity="0.25"/>
<rect x="503.65" y="541.60" width="31.20" height="15.5" fill="#fff" opacity="0.2" filter="url(#blur1)"/>
<text x="519.25" y="553.70" text-anchor="middle" font-family="Liberation Sans, sans-serif" font-size="11.5" fill="#000" stroke="#000" stroke-width="0.3">24 %</text>
<rect x="585.50" y="532.60" width="50.40" height="34.0" fill="url(#bd1)"/>
<polygon points="585.50,532.60 591.00,538.60 591.00,563.60 585.50,566.60" fill="url(#lb)"/>
<polygon points="635.90,532.60 630.40,538.60 630.40,563.60 635.90,566.60" fill="url(#rb)"/>
<polygon points="585.50,566.60 591.00,563.60 630.40,563.60 635.90,566.60" fill="#000" opacity="0.07"/>
<polygon points="585.50,532.60 635.90,532.60 630.40,538.60 591.00,538.60" fill="url(#tb1)"/>
<rect x="585.50" y="565.60" width="50.40" height="1" fill="#6a2020"/>
<rect x="585.50" y="532.60" width="0.8" height="34.0" fill="#000" opacity="0.25"/>
<rect x="605.00" y="541.60" width="11.40" height="15.5" fill="#fff" opacity="0.2" filter="url(#blur1)"/>
<text x="610.70" y="553.70" text-anchor="middle" font-family="Liberation Sans, sans-serif" font-size="11.5" fill="#000" stroke="#000" stroke-width="0.3">9</text>
<rect x="635.90" y="532.60" width="59.60" height="34.0" fill="url(#bd2)"/>
<polygon points="635.90,532.60 641.40,538.60 641.40,563.60 635.90,566.60" fill="url(#lb)"/>
<polygon points="695.50,532.60 690.00,538.60 690.00,563.60 695.50,566.60" fill="url(#rb)"/>
<polygon points="635.90,566.60 641.40,563.60 690.00,563.60 695.50,566.60" fill="#000" opacity="0.07"/>
<polygon points="635.90,532.60 695.50,532.60 690.00,538.60 641.40,538.60" fill="url(#tb2)"/>
<rect x="635.90" y="565.60" width="59.60" height="1" fill="#4f6424"/>
<rect x="635.90" y="532.60" width="0.8" height="34.0" fill="#000" opacity="0.25"/>
<rect x="650.10" y="541.60" width="31.20" height="15.5" fill="#fff" opacity="0.2" filter="url(#blur1)"/>
<text x="665.70" y="553.70" text-anchor="middle" font-family="Liberation Sans, sans-serif" font-size="11.5" fill="#000" stroke="#000" stroke-width="0.3">11 %</text>
<rect x="695.50" y="532.60" width="50.00" height="34.0" fill="url(#bd3)"/>
<polygon points="695.50,532.60 701.00,538.60 701.00,563.60 695.50,566.60" fill="url(#lb)"/>
<polygon points="745.50,532.60 740.00,538.60 740.00,563.60 745.50,566.60" fill="url(#rb)"/>
<polygon points="695.50,566.60 701.00,563.60 740.00,563.60 745.50,566.60" fill="#000" opacity="0.07"/>
<polygon points="695.50,532.60 745.50,532.60 740.00,538.60 701.00,538.60" fill="url(#tb3)"/>
<rect x="695.50" y="565.60" width="50.00" height="1" fill="#41305d"/>
<rect x="695.50" y="532.60" width="0.8" height="34.0" fill="#000" opacity="0.25"/>
<rect x="714.80" y="541.60" width="11.40" height="15.5" fill="#fff" opacity="0.2" filter="url(#blur1)"/>
<text x="720.50" y="553.70" text-anchor="middle" font-family="Liberation Sans, sans-serif" font-size="11.5" fill="#000" stroke="#000" stroke-width="0.3">9</text>
<rect x="745.50" y="532.60" width="142.70" height="34.0" fill="url(#bd4)"/>
<polygon points="745.50,532.60 751.00,538.60 751.00,563.60 745.50,566.60" fill="url(#lb)"/>
<polygon points="888.20,532.60 882.70,538.60 882.70,563.60 888.20,566.60" fill="url(#rb)"/>
<polygon points="745.50,566.60 751.00,563.60 882.70,563.60 888.20,566.60" fill="#000" opacity="0.07"/>
<polygon points="745.50,532.60 888.20,532.60 882.70,538.60 751.00,538.60" fill="url(#tb4)"/>
<rect x="745.50" y="565.60" width="142.70" height="1" fill="#8f4c14"/>
<rect x="745.50" y="532.60" width="0.8" height="34.0" fill="#000" opacity="0.25"/>
<rect x="801.25" y="541.60" width="31.20" height="15.5" fill="#fff" opacity="0.2" filter="url(#blur1)"/>
<text x="816.85" y="553.70" text-anchor="middle" font-family="Liberation Sans, sans-serif" font-size="11.5" fill="#000" stroke="#000" stroke-width="0.3">26 %</text>
<rect x="888.20" y="532.60" width="121.80" height="34.0" fill="url(#bd5)"/>
<polygon points="888.20,532.60 893.70,538.60 893.70,563.60 888.20,566.60" fill="url(#lb)"/>
<polygon points="1010.00,532.60 1004.50,538.60 1004.50,563.60 1010.00,566.60" fill="url(#rb)"/>
<polygon points="888.20,566.60 893.70,563.60 1004.50,563.60 1010.00,566.60" fill="#000" opacity="0.07"/>
<polygon points="888.20,532.60 1010.00,532.60 1004.50,538.60 893.70,538.60" fill="url(#tb5)"/>
<rect x="888.20" y="565.60" width="121.80" height="1" fill="#787878"/>
<rect x="888.20" y="532.60" width="0.8" height="34.0" fill="#000" opacity="0.25"/>
<text x="949.10" y="553.70" text-anchor="middle" font-family="Liberation Sans, sans-serif" font-size="11.5" fill="#000" stroke="#000" stroke-width="0.3">22 %</text>
<rect x="453.0" y="616.70" width="557.0" height="35.50" fill="#000" opacity="0.18" filter="url(#sh)"/>
<rect x="453.00" y="617.20" width="206.60" height="34.0" fill="url(#bd0)"/>
<polygon points="453.00,617.20 458.50,623.20 458.50,648.20 453.00,651.20" fill="url(#lb)"/>
<polygon points="659.60,617.20 654.10,623.20 654.10,648.20 659.60,651.20" fill="url(#rb)"/>
<polygon points="453.00,651.20 458.50,648.20 654.10,648.20 659.60,651.20" fill="#000" opacity="0.07"/>
<polygon points="453.00,617.20 659.60,617.20 654.10,623.20 458.50,623.20" fill="url(#tb0)"/>
<rect x="453.00" y="650.20" width="206.60" height="1" fill="#1e3a63"/>
<rect x="453.00" y="617.20" width="0.8" height="34.0" fill="#000" opacity="0.25"/>
<rect x="540.70" y="626.20" width="31.20" height="15.5" fill="#fff" opacity="0.2" filter="url(#blur1)"/>
<text x="556.30" y="638.30" text-anchor="middle" font-family="Liberation Sans, sans-serif" font-size="11.5" fill="#000" stroke="#000" stroke-width="0.3">37 %</text>
<rect x="659.60" y="617.20" width="78.00" height="34.0" fill="url(#bd1)"/>
<polygon points="659.60,617.20 665.10,623.20 665.10,648.20 659.60,651.20" fill="url(#lb)"/>
<polygon points="737.60,617.20 732.10,623.20 732.10,648.20 737.60,651.20" fill="url(#rb)"/>
<polygon points="659.60,651.20 665.10,648.20 732.10,648.20 737.60,651.20" fill="#000" opacity="0.07"/>
<polygon points="659.60,617.20 737.60,617.20 732.10,623.20 665.10,623.20" fill="url(#tb1)"/>
<rect x="659.60" y="650.20" width="78.00" height="1" fill="#6a2020"/>
<rect x="659.60" y="617.20" width="0.8" height="34.0" fill="#000" opacity="0.25"/>
<rect x="683.00" y="626.20" width="31.20" height="15.5" fill="#fff" opacity="0.2" filter="url(#blur1)"/>
<text x="698.60" y="638.30" text-anchor="middle" font-family="Liberation Sans, sans-serif" font-size="11.5" fill="#000" stroke="#000" stroke-width="0.3">14 %</text>
<rect x="737.60" y="617.20" width="55.40" height="34.0" fill="url(#bd2)"/>
<polygon points="737.60,617.20 743.10,623.20 743.10,648.20 737.60,651.20" fill="url(#lb)"/>
<polygon points="793.00,617.20 787.50,623.20 787.50,648.20 793.00,651.20" fill="url(#rb)"/>
<polygon points="737.60,651.20 743.10,648.20 787.50,648.20 793.00,651.20" fill="#000" opacity="0.07"/>
<polygon points="737.60,617.20 793.00,617.20 787.50,623.20 743.10,623.20" fill="url(#tb2)"/>
<rect x="737.60" y="650.20" width="55.40" height="1" fill="#4f6424"/>
<rect x="737.60" y="617.20" width="0.8" height="34.0" fill="#000" opacity="0.25"/>
<rect x="749.70" y="626.20" width="31.20" height="15.5" fill="#fff" opacity="0.2" filter="url(#blur1)"/>
<text x="765.30" y="638.30" text-anchor="middle" font-family="Liberation Sans, sans-serif" font-size="11.5" fill="#000" stroke="#000" stroke-width="0.3">10 %</text>
<rect x="793.00" y="617.20" width="33.80" height="34.0" fill="url(#bd3)"/>
<polygon points="793.00,617.20 798.50,623.20 798.50,648.20 793.00,651.20" fill="url(#lb)"/>
<polygon points="826.80,617.20 821.30,623.20 821.30,648.20 826.80,651.20" fill="url(#rb)"/>
<polygon points="793.00,651.20 798.50,648.20 821.30,648.20 826.80,651.20" fill="#000" opacity="0.07"/>
<polygon points="793.00,617.20 826.80,617.20 821.30,623.20 798.50,623.20" fill="url(#tb3)"/>
<rect x="793.00" y="650.20" width="33.80" height="1" fill="#41305d"/>
<rect x="793.00" y="617.20" width="0.8" height="34.0" fill="#000" opacity="0.25"/>
<rect x="804.20" y="626.20" width="11.40" height="15.5" fill="#fff" opacity="0.2" filter="url(#blur1)"/>
<text x="809.90" y="638.30" text-anchor="middle" font-family="Liberation Sans, sans-serif" font-size="11.5" fill="#000" stroke="#000" stroke-width="0.3">6</text>
<rect x="826.80" y="617.20" width="56.20" height="34.0" fill="url(#bd4)"/>
<polygon points="826.80,617.20 832.30,623.20 832.30,648.20 826.80,651.20" fill="url(#lb)"/>
<polygon points="883.00,617.20 877.50,623.20 877.50,648.20 883.00,651.20" fill="url(#rb)"/>
<polygon points="826.80,651.20 832.30,648.20 877.50,648.20 883.00,651.20" fill="#000" opacity="0.07"/>
<polygon points="826.80,617.20 883.00,617.20 877.50,623.20 832.30,623.20" fill="url(#tb4)"/>
<rect x="826.80" y="650.20" width="56.20" height="1" fill="#8f4c14"/>
<rect x="826.80" y="617.20" width="0.8" height="34.0" fill="#000" opacity="0.25"/>
<rect x="839.30" y="626.20" width="31.20" height="15.5" fill="#fff" opacity="0.2" filter="url(#blur1)"/>
<text x="854.90" y="638.30" text-anchor="middle" font-family="Liberation Sans, sans-serif" font-size="11.5" fill="#000" stroke="#000" stroke-width="0.3">10 %</text>
<rect x="883.00" y="617.20" width="127.00" height="34.0" fill="url(#bd5)"/>
<polygon points="883.00,617.20 888.50,623.20 888.50,648.20 883.00,651.20" fill="url(#lb)"/>
<polygon points="1010.00,617.20 1004.50,623.20 1004.50,648.20 1010.00,651.20" fill="url(#rb)"/>
<polygon points="883.00,651.20 888.50,648.20 1004.50,648.20 1010.00,651.20" fill="#000" opacity="0.07"/>
<polygon points="883.00,617.20 1010.00,617.20 1004.50,623.20 888.50,623.20" fill="url(#tb5)"/>
<rect x="883.00" y="650.20" width="127.00" height="1" fill="#787878"/>
<rect x="883.00" y="617.20" width="0.8" height="34.0" fill="#000" opacity="0.25"/>
<text x="946.50" y="638.30" text-anchor="middle" font-family="Liberation Sans, sans-serif" font-size="11.5" fill="#000" stroke="#000" stroke-width="0.3">23 %</text>
<rect x="97.00" y="283.90" width="1" height="37.10" fill="#d6dee9"/>
<rect x="439.00" y="283.90" width="1" height="37.10" fill="#d6dee9"/>
<rect x="97.50" y="320.50" width="342.00" height="1" fill="#e2eaf5"/>
<rect x="101.50" y="322.50" width="334.00" height="3" rx="1.5" fill="#8a929d" opacity="0.45" filter="url(#sh)"/>
<rect x="100.50" y="321.70" width="336.00" height="1.4" rx="0.7" fill="#8a929c" opacity="0.8" filter="url(#sh2)"/>
<text x="98.15" y="281.90" textLength="341.3" lengthAdjust="spacingAndGlyphs" font-family="Liberation Sans, sans-serif" font-size="13.3" fill="#000" stroke="#000" stroke-width="0.25">Jeg tror min virksomhet vil sette ut oppdrag til frilansere/</text>
<text x="129.10" y="299.70" textLength="279.4" lengthAdjust="spacingAndGlyphs" font-family="Liberation Sans, sans-serif" font-size="13.3" fill="#000" stroke="#000" stroke-width="0.25">oppdragstakere via apper eller nettsider i løpet</text>
<text x="207.80" y="317.50" textLength="122.0" lengthAdjust="spacingAndGlyphs" font-family="Liberation Sans, sans-serif" font-size="13.3" fill="#000" stroke="#000" stroke-width="0.25">av de neste to årene</text>
<text transform="translate(80,295.80) rotate(-90)" text-anchor="middle" font-family="Liberation Sans, sans-serif" font-size="13" fill="#000">a</text>
<rect x="103.20" y="368.50" width="1" height="37.10" fill="#d6dee9"/>
<rect x="439.00" y="368.50" width="1" height="37.10" fill="#d6dee9"/>
<rect x="103.70" y="405.10" width="335.80" height="1" fill="#e2eaf5"/>
<rect x="107.70" y="407.10" width="327.80" height="3" rx="1.5" fill="#8a929d" opacity="0.45" filter="url(#sh)"/>
<rect x="106.70" y="406.30" width="329.80" height="1.4" rx="0.7" fill="#8a929c" opacity="0.8" filter="url(#sh2)"/>
<text x="104.60" y="366.50" textLength="334.8" lengthAdjust="spacingAndGlyphs" font-family="Liberation Sans, sans-serif" font-size="13.3" fill="#000" stroke="#000" stroke-width="0.25">Bruk av apper og nettsider for formidling av arbeidskraft</text>
<text x="134.60" y="384.30" textLength="274.8" lengthAdjust="spacingAndGlyphs" font-family="Liberation Sans, sans-serif" font-size="13.3" fill="#000" stroke="#000" stroke-width="0.25">og tjenester vil føre til endringer i etterspørsel</text>
<text x="125.20" y="402.10" textLength="293.6" lengthAdjust="spacingAndGlyphs" font-family="Liberation Sans, sans-serif" font-size="13.3" fill="#000" stroke="#000" stroke-width="0.25">etter varer/tjenester som min virksomhet leverer</text>
<text transform="translate(80,380.40) rotate(-90)" text-anchor="middle" font-family="Liberation Sans, sans-serif" font-size="13" fill="#000">b</text>
<rect x="108.00" y="453.10" width="1" height="37.10" fill="#d6dee9"/>
<rect x="439.00" y="453.10" width="1" height="37.10" fill="#d6dee9"/>
<rect x="108.50" y="489.70" width="331.00" height="1" fill="#e2eaf5"/>
<rect x="112.50" y="491.70" width="323.00" height="3" rx="1.5" fill="#8a929d" opacity="0.45" filter="url(#sh)"/>
<rect x="111.50" y="490.90" width="325.00" height="1.4" rx="0.7" fill="#8a929c" opacity="0.8" filter="url(#sh2)"/>
<text x="109.70" y="451.10" textLength="329.2" lengthAdjust="spacingAndGlyphs" font-family="Liberation Sans, sans-serif" font-size="13.3" fill="#000" stroke="#000" stroke-width="0.25">Apper og nettsider for formidling av arbeid og tjenester</text>
<text x="119.95" y="468.90" textLength="308.7" lengthAdjust="spacingAndGlyphs" font-family="Liberation Sans, sans-serif" font-size="13.3" fill="#000" stroke="#000" stroke-width="0.25">vil utfordre myndighetenes muligheter til å regulere</text>
<text x="239.95" y="486.70" textLength="68.7" lengthAdjust="spacingAndGlyphs" font-family="Liberation Sans, sans-serif" font-size="13.3" fill="#000" stroke="#000" stroke-width="0.25">min bransje</text>
<text transform="translate(80,465.00) rotate(-90)" text-anchor="middle" font-family="Liberation Sans, sans-serif" font-size="13" fill="#000">c</text>
<rect x="105.00" y="546.60" width="1" height="19.30" fill="#d6dee9"/>
<rect x="439.00" y="546.60" width="1" height="19.30" fill="#d6dee9"/>
<rect x="105.50" y="565.40" width="334.00" height="1" fill="#e2eaf5"/>
<rect x="109.50" y="567.40" width="326.00" height="3" rx="1.5" fill="#8a929d" opacity="0.45" filter="url(#sh)"/>
<rect x="108.50" y="566.60" width="328.00" height="1.4" rx="0.7" fill="#8a929c" opacity="0.8" filter="url(#sh2)"/>
<text x="113.55" y="544.60" textLength="319.3" lengthAdjust="spacingAndGlyphs" font-family="Liberation Sans, sans-serif" font-size="13.3" fill="#000" stroke="#000" stroke-width="0.25">Bruk av apper og nettsider for formidling av arbeid og</text>
<text x="106.65" y="562.40" textLength="333.1" lengthAdjust="spacingAndGlyphs" font-family="Liberation Sans, sans-serif" font-size="13.3" fill="#000" stroke="#000" stroke-width="0.25">tjenester vil undergrave faglige rettigheter i min bransje</text>
<text transform="translate(80,549.60) rotate(-90)" text-anchor="middle" font-family="Liberation Sans, sans-serif" font-size="13" fill="#000">d</text>
<rect x="124.00" y="622.30" width="1" height="37.10" fill="#d6dee9"/>
<rect x="439.00" y="622.30" width="1" height="37.10" fill="#d6dee9"/>
<rect x="124.50" y="658.90" width="315.00" height="1" fill="#e2eaf5"/>
<rect x="128.50" y="660.90" width="307.00" height="3" rx="1.5" fill="#8a929d" opacity="0.45" filter="url(#sh)"/>
<rect x="127.50" y="660.10" width="309.00" height="1.4" rx="0.7" fill="#8a929c" opacity="0.8" filter="url(#sh2)"/>
<text x="125.55" y="620.30" textLength="313.5" lengthAdjust="spacingAndGlyphs" font-family="Liberation Sans, sans-serif" font-size="13.3" fill="#000" stroke="#000" stroke-width="0.25">Bruk av apper og nettsider til formidling av arbeid og</text>
<text x="131.80" y="638.10" textLength="301.0" lengthAdjust="spacingAndGlyphs" font-family="Liberation Sans, sans-serif" font-size="13.3" fill="#000" stroke="#000" stroke-width="0.25">tjenester vil føre til færre ansatte i min virksomhet</text>
<text x="230.25" y="655.90" textLength="104.1" lengthAdjust="spacingAndGlyphs" font-family="Liberation Sans, sans-serif" font-size="13.3" fill="#000" stroke="#000" stroke-width="0.25">de neste to årene</text>
<text transform="translate(80,634.20) rotate(-90)" text-anchor="middle" font-family="Liberation Sans, sans-serif" font-size="13" fill="#000">e</text>
<rect x="453.5" y="708.5" width="555" height="28" fill="#f2f2f2" stroke="#000" stroke-width="1"/>
<rect x="482" y="717.7" width="10.4" height="10.3" fill="url(#bd0)"/>
<rect x="482" y="717.7" width="10.4" height="10.3" fill="none" stroke="#000" stroke-opacity="0.25" stroke-width="0.8"/>
<polygon points="483.5,718.6 490.9,718.6 487.2,722.6" fill="#8cc3ff" opacity="0.85"/>
<rect x="482" y="727" width="10.4" height="1" fill="#1e3a63"/>
<text x="495" y="728" textLength="94.2" lengthAdjust="spacingAndGlyphs" font-family="Liberation Sans, sans-serif" font-size="17" fill="#000">1 Helt uenig</text>
<rect x="615" y="717.7" width="10.4" height="10.3" fill="url(#bd1)"/>
<rect x="615" y="717.7" width="10.4" height="10.3" fill="none" stroke="#000" stroke-opacity="0.25" stroke-width="0.8"/>
<polygon points="616.5,718.6 623.9,718.6 620.2,722.6" fill="#ff8a88" opacity="0.85"/>
<rect x="615" y="727" width="10.4" height="1" fill="#6a2020"/>
<text x="630" y="728" textLength="8.7" lengthAdjust="spacingAndGlyphs" font-family="Liberation Sans, sans-serif" font-size="17" fill="#000">2</text>
<rect x="667" y="717.7" width="10.4" height="10.3" fill="url(#bd2)"/>
<rect x="667" y="717.7" width="10.4" height="10.3" fill="none" stroke="#000" stroke-opacity="0.25" stroke-width="0.8"/>
<polygon points="668.5,718.6 675.9,718.6 672.2,722.6" fill="#dcff90" opacity="0.85"/>
<rect x="667" y="727" width="10.4" height="1" fill="#4f6424"/>
<text x="682" y="728" textLength="8.7" lengthAdjust="spacingAndGlyphs" font-family="Liberation Sans, sans-serif" font-size="17" fill="#000">3</text>
<rect x="718" y="717.7" width="10.4" height="10.3" fill="url(#bd3)"/>
<rect x="718" y="717.7" width="10.4" height="10.3" fill="none" stroke="#000" stroke-opacity="0.25" stroke-width="0.8"/>
<polygon points="719.5,718.6 726.9,718.6 723.2,722.6" fill="#caaaf2" opacity="0.85"/>
<rect x="718" y="727" width="10.4" height="1" fill="#41305d"/>
<text x="733" y="728" textLength="8.7" lengthAdjust="spacingAndGlyphs" font-family="Liberation Sans, sans-serif" font-size="17" fill="#000">4</text>
<rect x="770" y="717.7" width="10.4" height="10.3" fill="url(#bd4)"/>
<rect x="770" y="717.7" width="10.4" height="10.3" fill="none" stroke="#000" stroke-opacity="0.25" stroke-width="0.8"/>
<polygon points="771.5,718.6 778.9,718.6 775.2,722.6" fill="#ffcc7c" opacity="0.85"/>
<rect x="770" y="727" width="10.4" height="1" fill="#8f4c14"/>
<text x="783" y="728" textLength="84.5" lengthAdjust="spacingAndGlyphs" font-family="Liberation Sans, sans-serif" font-size="17" fill="#000">5 Helt enig</text>
<rect x="893.5" y="717.7" width="10.4" height="10.3" fill="url(#bd5)"/>
<rect x="893.5" y="717.7" width="10.4" height="10.3" fill="none" stroke="#000" stroke-opacity="0.25" stroke-width="0.8"/>
<polygon points="895.0,718.6 902.4,718.6 898.7,722.6" fill="#ffffff" opacity="0.85"/>
<rect x="893.5" y="727" width="10.4" height="1" fill="#787878"/>
<text x="907.5" y="728" textLength="80.5" lengthAdjust="spacingAndGlyphs" font-family="Liberation Sans, sans-serif" font-size="17" fill="#000">Ikke sikker</text>
<rect x="0" y="836" width="39" height="3.7" fill="#03578a"/>
<rect x="492" y="836" width="608" height="3.9" fill="#03578a"/>
<circle cx="69.8" cy="817.3" r="6.1" fill="#03578a"/><path d="M60.00,828.4 a2.5,2.5 0 0 1 2.5,-2.5 H77.10 a2.5,2.5 0 0 1 2.5,2.5 V838.6 a1,1 0 0 1 -1,1 H75.50 V850.6 H64.10 V839.6 H61.00 a1,1 0 0 1 -1,-1 Z" fill="#03578a"/>
<circle cx="93.8" cy="817.3" r="6.1" fill="#e8282b"/><path d="M84.00,828.4 a2.5,2.5 0 0 1 2.5,-2.5 H101.10 a2.5,2.5 0 0 1 2.5,2.5 V838.6 a1,1 0 0 1 -1,1 H99.50 V850.6 H88.10 V839.6 H85.00 a1,1 0 0 1 -1,-1 Z" fill="#e8282b"/>
<circle cx="118.1" cy="817.3" r="6.1" fill="#2fb24b"/><path d="M108.30,828.4 a2.5,2.5 0 0 1 2.5,-2.5 H125.40 a2.5,2.5 0 0 1 2.5,2.5 V838.6 a1,1 0 0 1 -1,1 H123.80 V850.6 H112.40 V839.6 H109.30 a1,1 0 0 1 -1,-1 Z" fill="#2fb24b"/>
<text transform="translate(0,850) scale(0.8828,1)" x="164.3 198.29999999999998 220.7 250.2 280.45 294.36 325.66 354.19 369.54 381.69 407.42 437.7 455.15 472.21 502.79" y="0" font-family="Liberation Sans, sans-serif" font-size="48.5" fill="#4b5057" stroke="#fff" stroke-width="0.4">arbeidslivet.no</text>
</svg>
</body></html>
